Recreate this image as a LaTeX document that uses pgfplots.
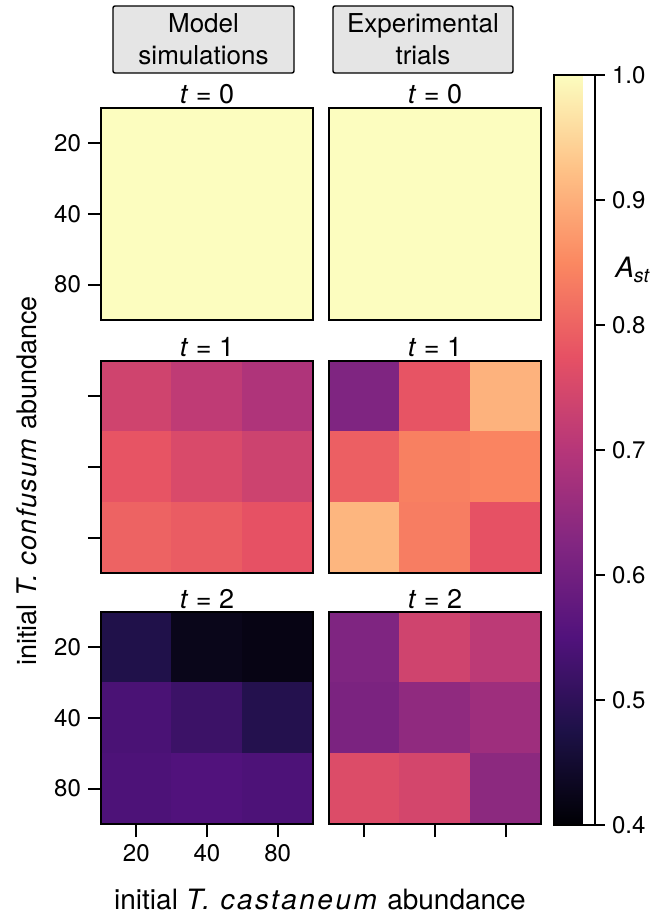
\documentclass[border=0pt]{standalone}
\usepackage{fontspec}
\setmainfont{TeX Gyre Heros}
\usepackage{pgfplots}
\usepackage{pgfplotstable}
\pgfplotsset{compat=1.18}
\pgfplotsset{colormap={magma}{rgb255=(0,0,4) rgb255=(29,17,71) rgb255=(81,18,124) rgb255=(130,38,129) rgb255=(182,54,121) rgb255=(230,81,100) rgb255=(251,136,97) rgb255=(254,194,135) rgb255=(252,253,191)}}
\newcommand\fs{\fontsize{12}{14.4}\selectfont}
\newcommand\ft{\fontsize{13.5}{16}\selectfont}
\newcommand\fstrip{\fontsize{13}{16}\selectfont}
\newcommand\spc[2]{\textit{\addfontfeature{LetterSpace=#1}#2}}
\pgfplotsset{heat/.style={scale only axis, width=106pt, height=106pt,
  xmin=-0.5, xmax=2.5, ymin=-0.5, ymax=2.5, y dir=reverse, anchor=south west,
  colormap name=magma, point meta min=0.4, point meta max=1,
  axis on top, axis line style={line width=0.9pt},
  tick style={line width=0.9pt, black}, tick align=outside, major tick length=6.5pt,
  xtick=\empty, ytick=\empty, xtick pos=bottom, ytick pos=left,
  font=\fs, tick label style={font=\fs},
  title style={at={(0.5,1)}, anchor=base, yshift=-4pt, font=\ft},
  /pgf/number format/assume math mode=true}}

\pgfplotstableread{
x y c
0 0 1.0
1 0 1.0
2 0 1.0
0 1 1.0
1 1 1.0
2 1 1.0
0 2 1.0
1 2 1.0
2 2 1.0
}\tZeroM
\pgfplotstableread{
x y c
0 0 1.0
1 0 1.0
2 0 1.0
0 1 1.0
1 1 1.0
2 1 1.0
0 2 1.0
1 2 1.0
2 2 1.0
}\tZeroE
\pgfplotstableread{
x y c
0 0 0.740
1 0 0.715
2 0 0.690
0 1 0.780
1 1 0.755
2 1 0.735
0 2 0.800
1 2 0.790
2 2 0.775
}\tOneM
\pgfplotstableread{
x y c
0 0 0.620
1 0 0.780
2 0 0.905
0 1 0.795
1 1 0.840
2 1 0.845
0 2 0.910
1 2 0.835
2 2 0.775
}\tOneE
\pgfplotstableread{
x y c
0 0 0.480
1 0 0.425
2 0 0.418
0 1 0.540
1 1 0.520
2 1 0.485
0 2 0.545
1 2 0.550
2 2 0.545
}\tTwoM
\pgfplotstableread{
x y c
0 0 0.620
1 0 0.740
2 0 0.710
0 1 0.615
1 1 0.645
2 1 0.665
0 2 0.760
1 2 0.745
2 2 0.640
}\tTwoE

\begin{document}
\begin{tikzpicture}
\useasboundingbox (0,0) rectangle (331pt,456pt);
% strip boxes
\node[draw, line width=0.7pt, fill=black!10, rounded corners=1pt, minimum width=90.5pt, minimum height=33.5pt, inner sep=0pt, align=center, font=\fstrip]
  at (101.75pt,436.25pt) {Model\\simulations};
\node[draw, line width=0.7pt, fill=black!10, rounded corners=1pt, minimum width=90pt, minimum height=33.5pt, inner sep=0pt, align=center, font=\fstrip]
  at (211.5pt,436.25pt) {Experimental\\trials};

% row 1
\begin{axis}[heat, at={(50.5pt,296pt)}, title={\textit{t} = 0}, ytick={0,1,2}, yticklabels={20,40,80}]
\addplot[matrix plot*, mesh/cols=3, point meta=explicit] table[meta=c] {\tZeroM};
\end{axis}
\begin{axis}[heat, at={(164.5pt,296pt)}, title={\textit{t} = 0},
  colorbar, colorbar style={at={(1.0613,1.1557)}, anchor=north west, scale only axis,
    width=20.5pt, height=375pt, ytick={0.4,0.5,0.6,0.7,0.8,0.9,1.0},
    yticklabel pos=right, ytick pos=right, tick align=outside, major tick length=5pt,
    axis line style={line width=0.7pt}, tick style={line width=0.7pt, black},
    yticklabel style={font=\fs, /pgf/number format/.cd, fixed, fixed zerofill, precision=1, assume math mode=true}}]
\addplot[matrix plot*, mesh/cols=3, point meta=explicit] table[meta=c] {\tZeroE};
\end{axis}
% row 2
\begin{axis}[heat, at={(50.5pt,169.5pt)}, title={\textit{t} = 1}, ytick={0,1,2}, yticklabels={}]
\addplot[matrix plot*, mesh/cols=3, point meta=explicit] table[meta=c] {\tOneM};
\end{axis}
\begin{axis}[heat, at={(164.5pt,169.5pt)}, title={\textit{t} = 1}]
\addplot[matrix plot*, mesh/cols=3, point meta=explicit] table[meta=c] {\tOneE};
\end{axis}
% row 3
\begin{axis}[heat, at={(50.5pt,44pt)}, title={\textit{t} = 2}, ytick={0,1,2}, yticklabels={20,40,80}, xtick={0,1,2}, xticklabels={20,40,80}]
\addplot[matrix plot*, mesh/cols=3, point meta=explicit] table[meta=c] {\tTwoM};
\end{axis}
\begin{axis}[heat, at={(164.5pt,44pt)}, title={\textit{t} = 2}, xtick={0,1,2}, xticklabels={}]
\addplot[matrix plot*, mesh/cols=3, point meta=explicit] table[meta=c] {\tTwoE};
\end{axis}

% labels
\node[rotate=90, anchor=base, font=\fontsize{13.5}{16}\selectfont] at (18.5pt,215.5pt) {initial \spc{5}{T.}\ \spc{5}{confusum} abundance};
\node[anchor=base, font=\fontsize{14}{16}\selectfont] at (160pt,1.5pt) {initial \spc{9}{T.}\ \spc{9}{castaneum} abundance};
\node[font=\fontsize{14}{16}\selectfont] at (316.5pt,321pt) {\textit{A}\textsubscript{\textit{st}}};
\end{tikzpicture}
\end{document}
